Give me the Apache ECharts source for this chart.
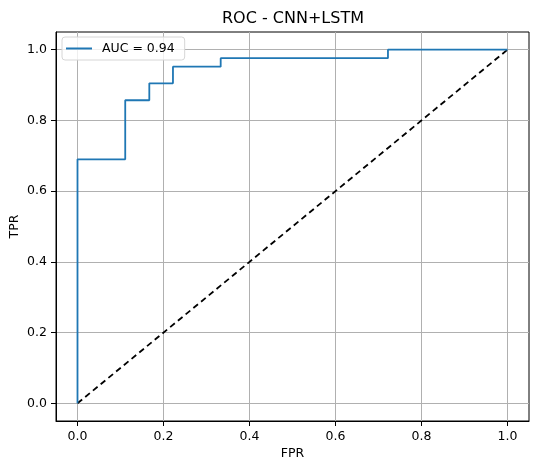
<!DOCTYPE html>
<html>
<head>
<meta charset="utf-8">
<script src="https://cdn.jsdelivr.net/npm/echarts@6/dist/echarts.min.js"></script>
<style>
  html, body { margin: 0; padding: 0; background: #fff; }
  #roc { width: 538px; height: 472px; }
</style>
</head>
<body>
<div id="roc"></div>
<script>
// ROC 曲线数据
const fpr = [0, 0, 0.111, 0.111, 0.167, 0.167, 0.222, 0.222, 0.333, 0.333, 0.722, 0.722, 1];
const tpr = [0, 0.690, 0.690, 0.857, 0.857, 0.905, 0.905, 0.952, 0.952, 0.976, 0.976, 1, 1];
const chanceX = [0, 1];
const chanceY = [0, 1];
const tickValues = [0, 0.2, 0.4, 0.6, 0.8, 1.0];
const aucLabel = "AUC = 0.94";

const font = "DejaVu Sans";
const chart = echarts.init(document.getElementById("roc"));

const axisCommon = {
  type: "value",
  min: -0.05,
  max: 1.05,
  nameLocation: "middle",
  nameMoveOverlap: false,
  nameTextStyle: { fontFamily: font, fontSize: 12.5, color: "#000" },
  axisLine: { show: true, onZero: false, lineStyle: { color: "#000", width: 1 } },
  axisTick: { show: true, length: 5, customValues: tickValues, lineStyle: { color: "#000" } },
  axisLabel: {
    customValues: tickValues,
    margin: 9,
    fontFamily: font,
    fontSize: 12.5,
    color: "#000",
    formatter: (v) => v.toFixed(1),
  },
  splitLine: { show: true, lineStyle: { color: "#b0b0b0", width: 1 } },
};

chart.setOption({
  animation: false,
  title: {
    text: "ROC - CNN+LSTM",
    left: 222,
    top: 11,
    padding: 0,
    textStyle: { fontFamily: font, fontSize: 16, fontWeight: "normal", color: "#000" },
  },
  legend: {
    data: [aucLabel],
    left: 62,
    top: 37,
    icon: "rect",
    itemWidth: 26,
    itemHeight: 2,
    itemGap: 10,
    padding: [5, 10, 5, 4],
    borderColor: "#d6d6d6",
    borderWidth: 1,
    borderRadius: 3,
    backgroundColor: "rgba(255,255,255,0.8)",
    textStyle: { fontFamily: font, fontSize: 12.5, color: "#000", padding: [0, 0, 0, 5] },
  },
  grid: {
    left: 56,
    right: 9,
    top: 32,
    bottom: 51,
    outerBoundsMode: "none",
    containLabel: false,
    show: true,
    borderColor: "#000",
    borderWidth: 1,
  },
  xAxis: Object.assign({}, axisCommon, { name: "FPR", nameGap: 26 }),
  yAxis: Object.assign({}, axisCommon, { name: "TPR", nameGap: 35 }),
  series: [
    {
      name: "chance",
      type: "line",
      showSymbol: false,
      lineStyle: { color: "#000", width: 1.8, type: [6, 4] },
      data: chanceX.map((x, i) => [x, chanceY[i]]),
    },
    {
      name: aucLabel,
      type: "line",
      showSymbol: false,
      color: "#1f77b4",
      lineStyle: { color: "#1f77b4", width: 1.8 },
      data: fpr.map((x, i) => [x, tpr[i]]),
    },
  ],
});
</script>
</body>
</html>
